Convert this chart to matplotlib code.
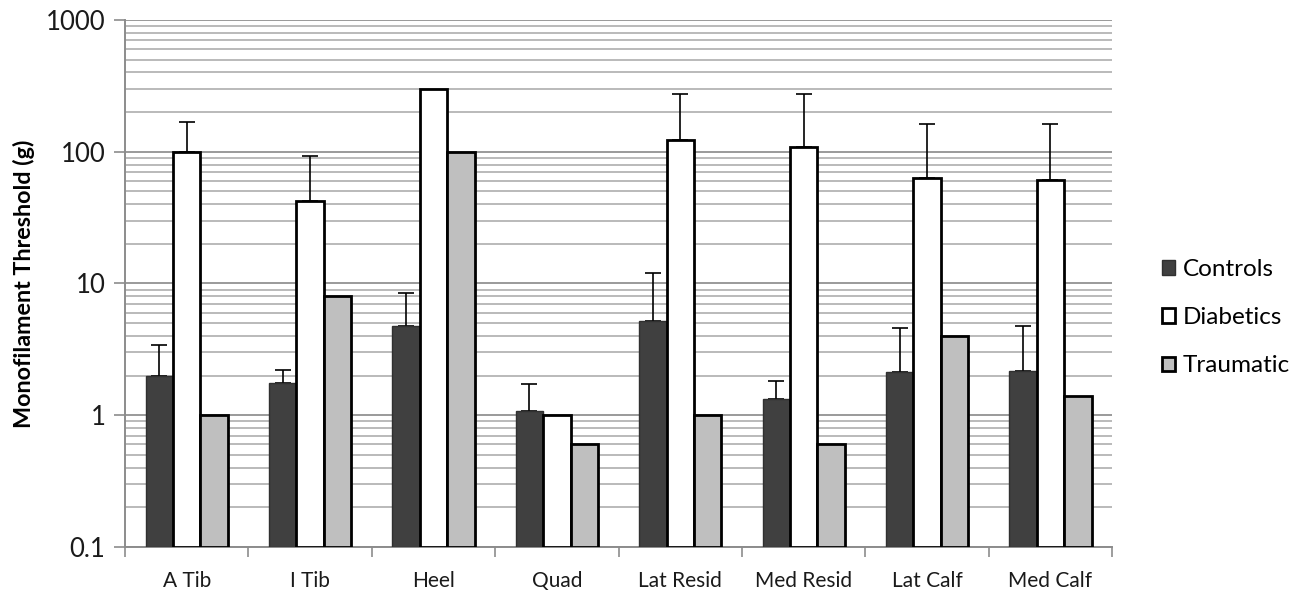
import numpy as np
import matplotlib
matplotlib.use("Agg")
import matplotlib.pyplot as plt
from matplotlib.ticker import LogLocator, FixedLocator, NullFormatter

# Monofilament thresholds (g) per test site
sites = ["A Tib", "I Tib", "Heel", "Quad", "Lat Resid", "Med Resid", "Lat Calf", "Med Calf"]
controls = [2.0, 1.75, 4.75, 1.08, 5.2, 1.33, 2.12, 2.17]
controls_err = [1.4, 0.47, 3.75, 0.65, 6.8, 0.48, 2.5, 2.6]
diabetics = [100, 42, 300, 1.0, 122, 109, 63, 61]
diabetics_err = [69, 51, 0, 0, 152, 165, 99, 101]
traumatic = [1.0, 8.0, 100, 0.6, 1.0, 0.6, 4.0, 1.4]
series_names = ["Controls", "Diabetics", "Traumatic"]

plt.rcParams["font.family"] = ["Lato", "DejaVu Sans"]

fig = plt.figure(figsize=(13.1, 5.9), dpi=100)
ax = fig.add_axes([0.0954, 0.0729, 0.7536, 0.8932])

ymin, ymax = 0.1, 1000
n = len(sites)
x = np.arange(n)
bw = 1 / 4.5  # three bars plus a 150% gap per category

styles = [
    dict(color="#404040", edgecolor="#303030", linewidth=1.0),
    dict(color="white", edgecolor="black", linewidth=2.0),
    dict(color="#bfbfbf", edgecolor="black", linewidth=2.0),
]
data = [controls, diabetics, traumatic]
errs = [controls_err, diabetics_err, None]

ax.set_yscale("log")
ax.set_ylim(ymin, ymax)
ax.set_xlim(-0.5, n - 0.5)

for i, (vals, st, err) in enumerate(zip(data, styles, errs)):
    xpos = x + (i - 1) * bw
    vals = np.asarray(vals, dtype=float)
    ax.bar(xpos, vals - ymin, bottom=ymin, width=bw, zorder=3, label=series_names[i], **st)
    if err is not None:
        err = np.asarray(err, dtype=float)
        mask = err > 0
        ax.errorbar(xpos[mask], vals[mask], yerr=[np.zeros(mask.sum()), err[mask]],
                    fmt="none", ecolor="black", elinewidth=1.2, capsize=5.5,
                    capthick=1.2, zorder=2)

# gridlines at every major and minor decade step
ax.yaxis.set_major_locator(LogLocator(base=10, numticks=10))
ax.yaxis.set_minor_locator(LogLocator(base=10, subs=np.arange(2, 10), numticks=20))
ax.yaxis.set_minor_formatter(NullFormatter())
ax.set_yticks([0.1, 1, 10, 100, 1000])
ax.set_yticklabels(["0.1", "1", "10", "100", "1000"])
ax.grid(True, which="major", axis="y", color="#9a9a9a", linewidth=1.4, zorder=0)
ax.grid(True, which="minor", axis="y", color="#b4b4b4", linewidth=1.3, zorder=0)
ax.set_axisbelow(True)
ax.tick_params(axis="y", which="major", length=8, width=1.2, color="#8c8c8c",
               labelsize=18.5, pad=6, labelcolor="#1a1a1a")
ax.tick_params(axis="y", which="minor", length=0)

# category labels centred, tick marks between categories
ax.set_xticks(x)
ax.set_xticklabels(sites)
ax.xaxis.set_minor_locator(FixedLocator(np.arange(-0.5, n, 1.0)))
ax.tick_params(axis="x", which="major", length=0, labelsize=15, pad=17, labelcolor="#1a1a1a")
ax.tick_params(axis="x", which="minor", length=7, width=1.2, color="#8c8c8c")

for s in ["top", "right"]:
    ax.spines[s].set_visible(False)
for s in ["left", "bottom"]:
    ax.spines[s].set_color("#8c8c8c")
    ax.spines[s].set_linewidth(1.4)

ax.set_ylabel("Monofilament Threshold (g)", fontsize=16.8, fontweight="bold")
ax.yaxis.set_label_coords(-0.091, 0.5)

leg = ax.legend(loc="center left", bbox_to_anchor=(1.028, 0.435), frameon=False,
                fontsize=17.5, handlelength=0.55, handleheight=0.55, handletextpad=0.32,
                labelspacing=1.12)

fig.savefig("out.png", dpi=100)
